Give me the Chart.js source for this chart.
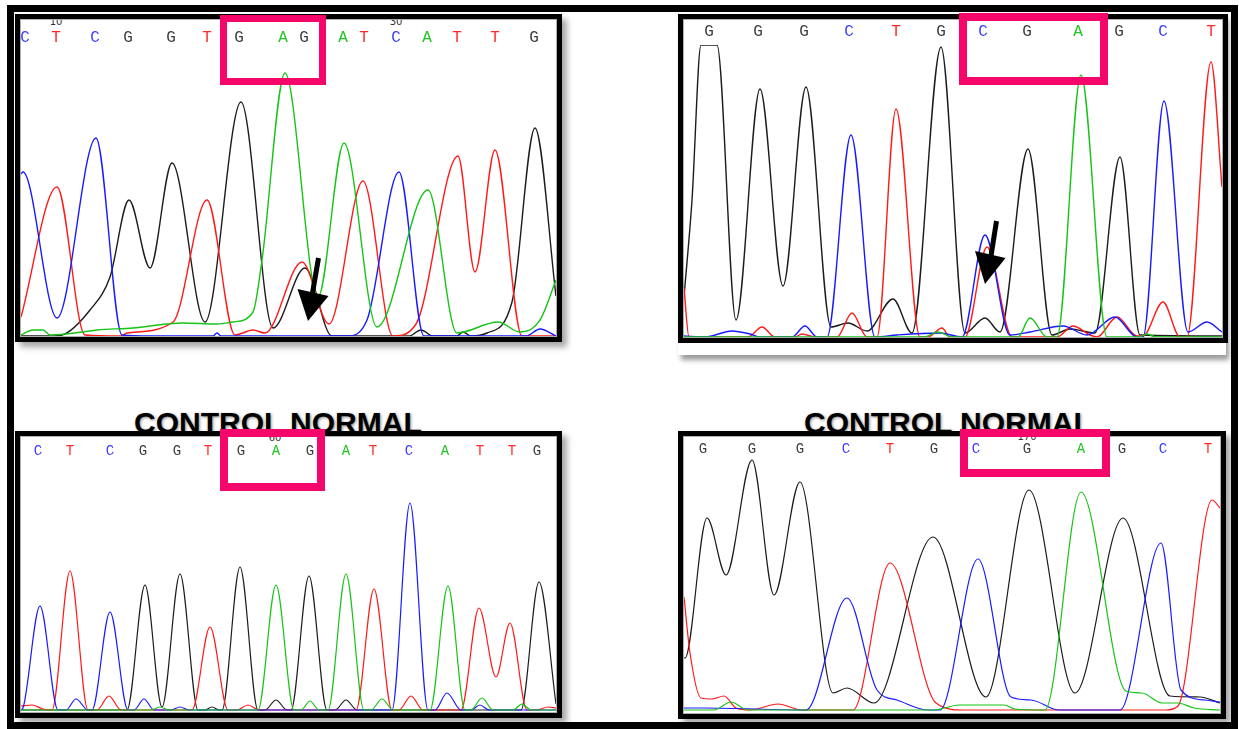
<!DOCTYPE html>
<html>
<head>
<meta charset="utf-8">
<title>Sequencing chromatograms</title>
<script src="https://cdn.jsdelivr.net/npm/chart.js@4.4.0/dist/chart.umd.min.js"></script>
<style>
  html, body { margin: 0; padding: 0; background: #fff; }
  body { width: 1239px; height: 729px; position: relative; overflow: hidden; font-family: "Liberation Sans", Arial, sans-serif; }
  .outer { position: absolute; left: 7px; top: 5px; width: 1231px; height: 724px; border: 7px solid #000; box-sizing: border-box; z-index: 5; pointer-events: none; }
  .caption { position: absolute; font: bold 30px "Liberation Sans", Arial, sans-serif; line-height: 30px; color: #000; white-space: nowrap; text-shadow: 1px 1px 3px rgba(0,0,0,.45); z-index: 1; }
  .panel { position: absolute; border: 5px solid #000; box-sizing: border-box; background: #fff; box-shadow: 5px 5px 6px rgba(0,0,0,.35); z-index: 2; }
  .sheet { position: absolute; background: #fff; box-shadow: 3px 5px 5px rgba(0,0,0,.4); z-index: 2; }
  .inner { position: absolute; left: 0; top: 0; right: 0; bottom: 0; border: 1px solid #b0b0b0; overflow: hidden; }
  .inner canvas { position: absolute; left: 0; top: 0; }
  .pos { position: absolute; font: 10px "DejaVu Sans", sans-serif; line-height: 10px; color: #333; transform: translateX(-50%); }
  .box { position: absolute; border: 7px solid #f5066b; box-sizing: border-box; z-index: 3; }
  svg.marks { position: absolute; left: 0; top: 0; z-index: 4; }
</style>
</head>
<body>
<div class="outer"></div>

<div class="caption" style="left:134px; top:408px;">CONTROL NORMAL</div>
<div class="caption" style="left:804px; top:408px;">CONTROL NORMAL</div>

<!-- upper left trace -->
<div class="panel" style="left:15px; top:14px; width:547px; height:328px;">
  <div class="inner">
    <span class="pos" style="left:35px; top:-3px;">10</span>
    <span class="pos" style="left:375px; top:-3px;">30</span>
    <canvas id="tl" width="535" height="316"></canvas>
  </div>
</div>

<!-- upper right trace -->
<div class="sheet" style="left:678px; top:14px; width:548px; height:341px;"></div>
<div class="panel" style="left:678px; top:14px; width:550px; height:329px; box-shadow:none; z-index:2;">
  <div class="inner">
    <canvas id="tr" width="538" height="317"></canvas>
  </div>
</div>

<!-- lower left trace -->
<div class="panel" style="left:15px; top:431px; width:547px; height:287px;">
  <div class="inner">
    <span class="pos" style="left:254px; top:-4px;">60</span>
    <canvas id="bl" width="535" height="275"></canvas>
  </div>
</div>

<!-- lower right trace -->
<div class="panel" style="left:678px; top:431px; width:548px; height:288px;">
  <div class="inner">
    <span class="pos" style="left:343px; top:-5px;">170</span>
    <canvas id="br" width="536" height="276"></canvas>
  </div>
</div>

<!-- highlighted codons -->
<div class="box" style="left:220px; top:15px; width:106px; height:70px;"></div>
<div class="box" style="left:959px; top:13px; width:149px; height:72px; border-width:8px;"></div>
<div class="box" style="left:220px; top:429px; width:105px; height:62px; border-width:8px;"></div>
<div class="box" style="left:960px; top:429px; width:150px; height:48px; border-width:8px;"></div>

<!-- pointers to the secondary peaks -->
<svg class="marks" width="1239" height="729">
  <line x1="318.5" y1="258" x2="312.5" y2="293" stroke="#000" stroke-width="5"/>
  <polygon points="297.5,289 328.5,296 308,321" fill="#000"/>
  <line x1="996.5" y1="221" x2="991" y2="256" stroke="#000" stroke-width="5"/>
  <polygon points="975,251 1005.5,258 985,284" fill="#000"/>
</svg>

<script>
// Base calls and their scan positions (scan index along each trace window)
const tlCalls = ['C','T','C','G','G','T','G','A','G','A','T','C','A','T','T','G'];
const tlPos   = [4, 35, 74, 107, 150, 186, 218, 262, 283, 322, 343, 375, 406, 436, 474, 513];
const trCalls = ['G','G','G','C','T','G','C','G','A','G','C','T'];
const trPos   = [25, 74, 120, 165, 212, 257, 299, 343, 394, 435, 479, 527];
const blCalls = ['C','T','C','G','G','T','G','A','G','A','T','C','A','T','T','G'];
const blPos   = [17, 49, 89, 122, 156, 187, 220, 255, 289, 325, 352, 388, 424, 459, 491, 516];
const brCalls = ['G','G','G','C','T','G','C','G','A','G','C','T'];
const brPos   = [19, 68, 116, 162, 206, 250, 292, 343, 397, 438, 479, 524];

// Fluorescence traces: [scan, intensity] at the turning points of each channel
const tlA = [[0,1],[12,6],[22,6],[29,1],[62,4],[76,6],[112,8],[146,12],[162,13],[196,12],[212,14],[232,24],[241,76],[264,263],[297,39],[323,193],[356,9],[407,146],[436,3],[477,14],[499,4],[519,16],[535,56]];
const tlC = [[0,162],[2,164],[36,18],[75,198],[101,1],[130,0],[192,0],[196,3],[200,0],[326,0],[346,16],[378,164],[403,0],[505,0],[519,7],[535,0]];
const tlG = [[0,0],[30,0],[41,1],[69,26],[89,59],[108,136],[129,68],[151,173],[184,14],[220,234],[252,8],[284,68],[311,0],[388,0],[400,6],[412,0],[436,0],[442,4],[450,0],[466,3],[491,34],[514,208],[535,40]];
const tlT = [[0,19],[36,149],[64,1],[100,0],[106,3],[152,14],[186,136],[214,1],[232,6],[244,3],[281,74],[308,12],[342,155],[372,0],[395,12],[437,180],[454,64],[474,186],[501,0],[535,0]];

const trA = [[0,0],[240,0],[254,5],[268,0],[334,0],[346,19],[363,0],[373,0],[397,262],[423,0],[455,0],[463,3],[472,0],[538,0]];
const trC = [[0,1],[21,0],[48,6],[66,3],[76,0],[108,0],[121,11],[133,0],[143,0],[167,202],[191,0],[213,2],[256,4],[278,0],[301,102],[326,2],[346,5],[379,11],[403,2],[431,20],[453,0],[459,0],[480,236],[504,5],[523,15],[538,5]];
const trG = [[0,40],[8,137],[17,292],[33,292],[52,17],[76,248],[99,51],[122,250],[147,10],[164,14],[183,6],[209,38],[228,4],[257,290],[281,4],[301,19],[316,5],[344,188],[368,2],[386,8],[411,4],[436,180],[456,2],[538,1]];
const trT = [[0,49],[5,0],[64,0],[78,10],[91,0],[111,0],[118,3],[131,0],[153,0],[168,24],[183,0],[193,0],[212,228],[236,0],[244,0],[258,9],[266,0],[281,0],[303,90],[328,0],[373,0],[389,11],[406,2],[413,0],[433,20],[453,1],[459,1],[479,35],[496,0],[503,0],[527,275],[538,150]];

const blA = [[0,2],[130,2],[139,5],[148,2],[237,2],[255,127],[273,2],[280,2],[289,11],[298,2],[307,2],[325,138],[343,2],[350,2],[361,13],[372,2],[409,2],[427,126],[444,2],[450,2],[461,14],[472,2],[492,2],[501,8],[510,2],[535,2]];
const blC = [[0,2],[2,4],[19,106],[37,2],[45,2],[55,13],[67,2],[71,2],[89,100],[107,2],[113,2],[123,13],[133,2],[150,2],[159,5],[168,2],[371,2],[389,209],[407,2],[414,2],[426,19],[440,2],[450,2],[459,7],[468,2],[535,2]];
const blG = [[0,2],[106,2],[124,127],[141,5],[159,138],[177,2],[184,2],[191,5],[198,2],[201,2],[219,145],[237,2],[244,2],[255,12],[266,2],[270,2],[288,136],[306,2],[314,2],[325,12],[336,2],[500,2],[518,130],[535,8]];
const blT = [[0,6],[11,7],[22,3],[31,2],[49,141],[67,2],[76,2],[88,16],[100,2],[171,2],[189,85],[207,2],[216,2],[227,7],[238,2],[335,2],[353,123],[371,2],[378,2],[390,16],[402,2],[440,2],[458,104],[475,35],[489,89],[506,2],[516,2],[527,5],[535,4]];

const brA = [[0,3],[30,3],[47,11],[64,3],[250,3],[275,8],[320,8],[331,4],[361,3],[397,221],[442,22],[458,20],[478,10],[494,10],[510,5],[536,3]];
const brC = [[0,5],[20,5],[122,3],[163,115],[193,23],[213,13],[244,3],[256,3],[294,154],[327,16],[347,13],[375,3],[436,3],[477,170],[497,23],[521,13],[536,11]];
const brG = [[0,55],[1,55],[23,195],[42,138],[68,253],[90,118],[116,231],[149,20],[163,25],[190,10],[249,176],[302,16],[345,223],[391,20],[439,195],[486,17],[516,16],[536,10]];
const brT = [[0,116],[6,60],[17,15],[28,14],[40,17],[52,5],[66,3],[94,9],[118,3],[169,3],[206,150],[252,10],[280,3],[482,3],[494,7],[528,213],[536,205]];

const traceColor = { A: '#16c416', C: '#1a1aff', G: '#1c1c1c', T: '#ff1a1a' };
const callColor  = { A: '#22c422', C: '#3a3aff', G: '#3c3c3c', T: '#ff2a2a' };

function drawTrace(id, cfg) {
  const channels = [['A', cfg.A], ['C', cfg.C], ['T', cfg.T], ['G', cfg.G]];
  return new Chart(document.getElementById(id), {
    type: 'line',
    data: {
      datasets: channels.map(([base, pts]) => ({
        label: base,
        data: pts,
        borderColor: traceColor[base],
        borderWidth: cfg.lw,
        pointRadius: 0,
        fill: false,
        cubicInterpolationMode: 'monotone'
      }))
    },
    options: {
      responsive: false,
      animation: false,
      events: [],
      layout: { padding: 0 },
      plugins: { legend: { display: false }, tooltip: { enabled: false } },
      scales: {
        x: {
          type: 'linear',
          position: 'top',
          min: 0,
          max: cfg.xMax,
          grid: { display: false, drawTicks: false },
          border: { display: false },
          ticks: {
            autoSkip: false,
            maxRotation: 0,
            padding: cfg.pad,
            font: { family: '"Liberation Mono", "DejaVu Sans Mono", monospace', size: cfg.fs },
            color: (ctx) => callColor[cfg.calls[ctx.index]],
            callback: (value, index) => cfg.calls[index]
          },
          afterBuildTicks: (scale) => { scale.ticks = cfg.pos.map(v => ({ value: v })); },
          afterFit: (scale) => { scale.height = cfg.head; scale.paddingLeft = 0; scale.paddingRight = 0; }
        },
        y: { display: false, min: 0, max: cfg.yMax }
      }
    }
  });
}

drawTrace('tl', { A: tlA, C: tlC, G: tlG, T: tlT, calls: tlCalls, pos: tlPos, xMax: 535, yMax: 286, head: 30, pad: 2.4, fs: 16, lw: 1.4 });
drawTrace('tr', { A: trA, C: trC, G: trG, T: trT, calls: trCalls, pos: trPos, xMax: 538, yMax: 292, head: 25, pad: 3.4, fs: 16, lw: 1.4 });
drawTrace('bl', { A: blA, C: blC, G: blG, T: blT, calls: blCalls, pos: blPos, xMax: 535, yMax: 247, head: 28, pad: 5.6, fs: 14, lw: 1.2 });
drawTrace('br', { A: brA, C: brC, G: brG, T: brT, calls: brCalls, pos: brPos, xMax: 536, yMax: 255, head: 21, pad: 0.6, fs: 14, lw: 1.2 });
</script>
</body>
</html>
